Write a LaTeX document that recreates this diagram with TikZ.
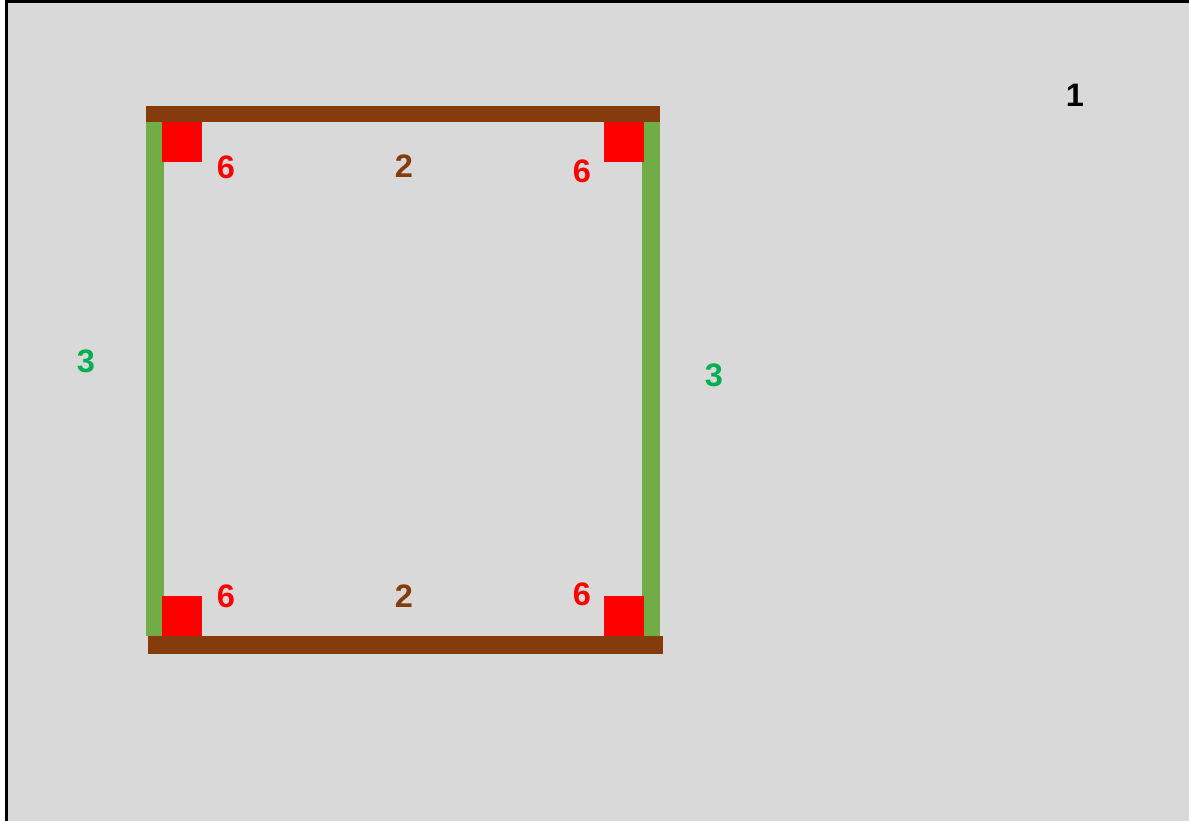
\documentclass[tikz,border=0pt]{standalone}
\usepackage{fontspec}
\setmainfont{Liberation Sans}
\definecolor{bg}{HTML}{D9D9D9}
\definecolor{beam}{HTML}{843C0C}
\definecolor{post}{HTML}{70AD47}
\definecolor{lblgreen}{HTML}{00B050}
\definecolor{cornerred}{HTML}{FF0000}
\tikzset{
  lbl/.style={font=\fontsize{32.5}{38}\selectfont\bfseries, inner sep=0pt},
  beambar/.style={fill=beam, draw=none},
  postbar/.style={fill=post, draw=none},
  cornerbox/.style={fill=cornerred, draw=none},
}
\begin{document}
\begin{tikzpicture}[x=1pt,y=-1pt]
\useasboundingbox (0,0) rectangle (1189,820);
\clip (0,0) rectangle (1189,820);
\fill[white] (0,0) rectangle (1189,820);
\fill[bg] (6.7,1.3) rectangle (1195,825);
\draw[line width=2.7pt] (6.7,825) -- (6.7,1.3) -- (1195,1.3);
% beams
\fill[beambar] (145.5,106) rectangle (660,122);
\fill[beambar] (147.5,636) rectangle (662.5,654);
% posts
\fill[postbar] (145.5,122) rectangle (164,636);
\fill[postbar] (642,122) rectangle (660,636);
% corners
\fill[cornerbox] (162,122) rectangle (202,162);
\fill[cornerbox] (604,122) rectangle (644,162);
\fill[cornerbox] (162,596) rectangle (202,636);
\fill[cornerbox] (604,596) rectangle (644,636);
% labels
\node[lbl, text=black] (l1) at (1075,95) {1};
\node[lbl, text=beam] (l2t) at (404,166) {2};
\node[lbl, text=beam] (l2b) at (404,596) {2};
\node[lbl, text=lblgreen] (l3l) at (86,361) {3};
\node[lbl, text=lblgreen] (l3r) at (714,375) {3};
\node[lbl, text=cornerred] (l6a) at (226,167) {6};
\node[lbl, text=cornerred] (l6b) at (582,171) {6};
\node[lbl, text=cornerred] (l6c) at (226,596) {6};
\node[lbl, text=cornerred] (l6d) at (582,594) {6};
\end{tikzpicture}
\end{document}
